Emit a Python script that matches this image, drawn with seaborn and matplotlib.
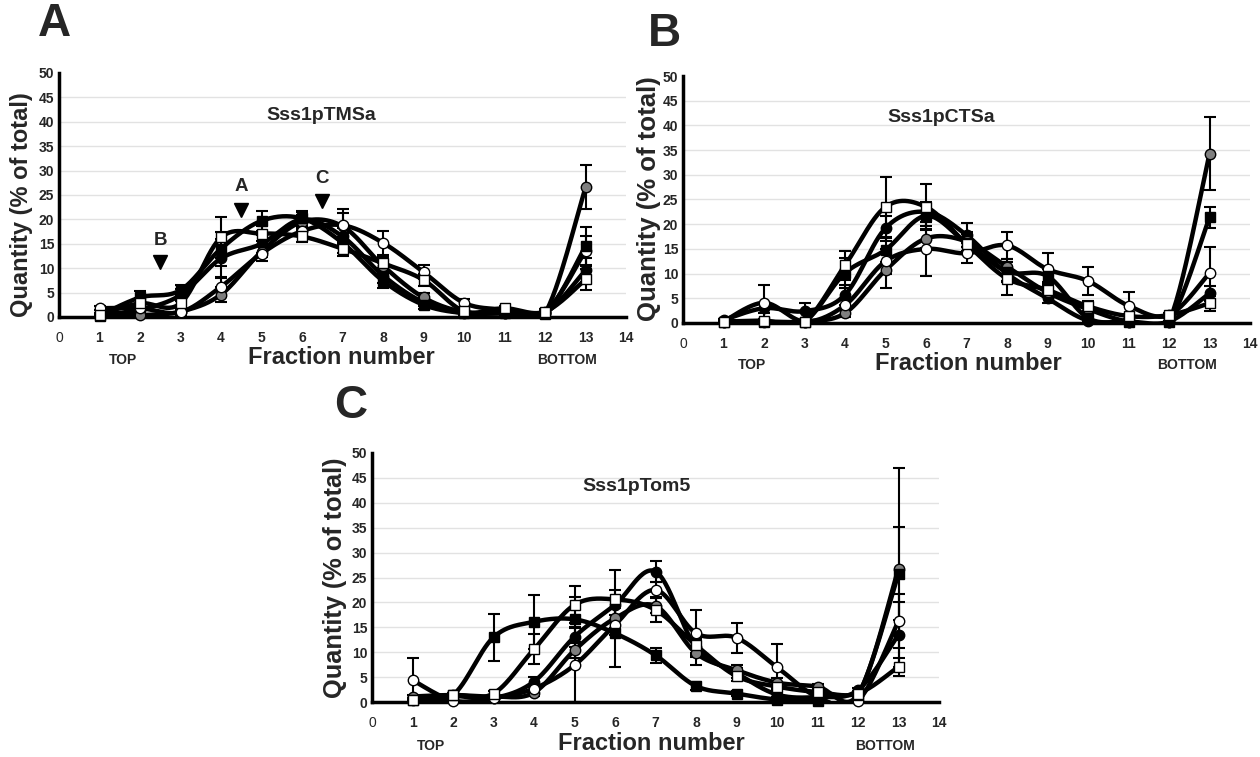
import numpy as np
import matplotlib
matplotlib.use("Agg")
import matplotlib.pyplot as plt
import seaborn as sns

# Fracciones del gradiente (1 = arriba, 13 = fondo)
fracciones = [1, 2, 3, 4, 5, 6, 7, 8, 9, 10, 11, 12, 13]

# Panel A - Sss1pTMSa
a_cuad_negro = [0.3, 4.0, 5.5, 14.0, 19.7, 20.2, 15.2, 7.4, 2.5, 0.8, 0.8, 0.6, 14.5]
a_cuad_negro_err = [0.3, 1.3, 1.0, 3.5, 2.0, 1.5, 2.0, 1.5, 0.8, 0.5, 0.5, 0.4, 4.0]
a_cuad_blanco = [0.5, 2.8, 2.8, 16.3, 17.1, 16.5, 14.0, 11.0, 7.6, 1.2, 1.8, 1.1, 7.7]
a_cuad_blanco_err = [0.3, 1.0, 1.0, 4.2, 1.5, 1.2, 1.6, 1.5, 1.2, 0.6, 0.5, 0.5, 2.2]
a_circ_negro = [0.5, 1.5, 4.5, 12.0, 15.0, 20.0, 16.5, 8.5, 3.0, 0.8, 0.8, 0.8, 9.6]
a_circ_negro_err = [0.3, 0.8, 1.2, 4.0, 1.8, 1.6, 1.8, 1.5, 0.8, 0.4, 0.4, 0.4, 2.5]
a_circ_blanco = [1.8, 1.8, 1.0, 6.2, 13.0, 17.6, 18.8, 15.2, 9.2, 2.9, 1.5, 1.0, 13.6]
a_circ_blanco_err = [0.4, 0.6, 0.5, 2.0, 1.5, 1.0, 2.5, 2.5, 1.5, 0.8, 0.4, 0.4, 3.0]
a_circ_gris = [0.5, 0.4, 1.1, 4.6, 13.4, 19.5, 18.6, 10.5, 4.0, 1.0, 0.8, 0.8, 26.6]
a_circ_gris_err = [0.3, 0.4, 0.5, 1.5, 1.2, 1.5, 3.5, 1.5, 1.0, 0.4, 0.4, 0.4, 4.5]

# Panel B - Sss1pCTSa
b_cuad_negro = [0.3, 0.3, 0.3, 10.1, 14.8, 21.7, 16.2, 10.4, 9.5, 1.0, 0.3, 0.3, 21.4]
b_cuad_negro_err = [0.2, 0.2, 0.3, 3.0, 2.5, 2.0, 1.8, 2.0, 1.5, 0.5, 0.2, 0.2, 2.1]
b_cuad_blanco = [0.3, 0.5, 0.3, 11.7, 23.5, 23.5, 16.0, 9.0, 6.7, 3.4, 1.4, 1.6, 4.0]
b_cuad_blanco_err = [0.2, 0.3, 0.3, 2.9, 6.0, 4.6, 2.0, 3.3, 1.5, 1.0, 0.5, 0.5, 1.5]
b_circ_negro = [0.6, 3.0, 2.4, 5.7, 19.2, 22.5, 17.8, 10.0, 5.0, 0.5, 0.3, 0.3, 6.0]
b_circ_negro_err = [0.3, 1.0, 1.7, 2.0, 2.5, 2.0, 2.4, 1.5, 1.0, 0.3, 0.2, 0.2, 1.5]
b_circ_blanco = [0.3, 4.1, 0.3, 3.6, 12.5, 15.0, 14.1, 15.7, 10.9, 8.5, 3.5, 1.6, 10.1]
b_circ_blanco_err = [0.2, 3.5, 0.3, 1.0, 2.5, 5.4, 2.0, 2.7, 3.2, 2.8, 2.7, 0.5, 5.3]
b_circ_gris = [0.3, 0.3, 0.3, 2.0, 10.7, 17.1, 16.5, 11.4, 6.2, 2.8, 0.3, 0.3, 34.3]
b_circ_gris_err = [0.2, 0.2, 0.3, 0.8, 3.7, 2.0, 2.0, 1.5, 1.0, 0.8, 0.2, 0.2, 7.3]

# Panel C - Sss1pTom5
c_cuad_negro = [0.4, 1.4, 13.0, 16.1, 16.6, 13.8, 9.4, 3.2, 1.7, 0.5, 0.3, 1.5, 25.8]
c_cuad_negro_err = [0.3, 0.5, 4.7, 5.4, 4.5, 6.7, 1.5, 0.8, 0.5, 0.3, 0.2, 0.5, 9.3]
c_cuad_blanco = [0.5, 1.4, 1.7, 10.6, 19.5, 20.6, 18.5, 11.4, 5.2, 3.1, 2.0, 1.7, 7.1]
c_cuad_blanco_err = [0.3, 0.5, 0.5, 3.0, 3.7, 6.0, 2.4, 1.5, 1.0, 1.0, 0.5, 0.5, 1.8]
c_circ_negro = [0.5, 1.2, 0.8, 4.1, 13.1, 19.5, 26.2, 11.0, 5.8, 1.5, 1.0, 2.4, 13.5]
c_circ_negro_err = [0.3, 0.5, 0.5, 1.0, 2.0, 3.0, 2.2, 1.5, 1.0, 0.5, 0.3, 0.5, 6.5]
c_circ_blanco = [4.4, 0.3, 0.8, 2.7, 7.4, 15.5, 22.5, 13.8, 12.9, 7.0, 1.0, 0.2, 16.3]
c_circ_blanco_err = [4.4, 0.2, 0.4, 0.8, 7.4, 2.0, 1.5, 4.7, 3.0, 4.6, 0.4, 0.2, 5.4]
c_circ_gris = [1.1, 1.4, 1.1, 1.9, 10.4, 16.8, 19.3, 9.8, 6.4, 3.9, 3.1, 1.5, 26.8]
c_circ_gris_err = [0.4, 0.5, 0.4, 0.6, 1.5, 2.0, 1.5, 2.4, 1.0, 1.0, 0.5, 0.5, 20.1]

# estilo de marcador de cada serie: (marcador, relleno)
estilos = {
    "circ_negro": ("o", "black"),
    "circ_gris": ("o", "#7f7f7f"),
    "circ_blanco": ("o", "white"),
    "cuad_negro": ("s", "black"),
    "cuad_blanco": ("s", "white"),
}

W, H = 1260, 757


def suavizar(x, y, n=30):
    """Curva suavizada tipo Excel (Bezier con tangentes de Catmull-Rom)."""
    x = np.asarray(x, float)
    y = np.asarray(y, float)
    pts = np.column_stack([x, y])
    t = np.linspace(0, 1, n)[:, None]
    tramos = []
    for i in range(len(pts) - 1):
        p0 = pts[i - 1] if i > 0 else pts[i]
        p1, p2 = pts[i], pts[i + 1]
        p3 = pts[i + 2] if i + 2 < len(pts) else pts[i + 1]
        c1 = p1 + (p2 - p0) / 6
        c2 = p2 - (p3 - p1) / 6
        seg = ((1 - t) ** 3) * p1 + 3 * ((1 - t) ** 2) * t * c1 + 3 * (1 - t) * t ** 2 * c2 + t ** 3 * p2
        tramos.append(seg if i == 0 else seg[1:])
    curva = np.vstack(tramos)
    return curva[:, 0], curva[:, 1]


def crear_eje(x0, y0, y50):
    # posiciones en pixeles -> fraccion de figura
    ancho = 567
    return fig.add_axes([x0 / W, 1 - y0 / H, ancho / W, (y0 - y50) / H])


def dibujar_panel(ax, series, titulo, pos):
    for nombre, (valores, errores) in series.items():
        marcador, relleno = estilos[nombre]
        sx, sy = suavizar(fracciones, valores)
        sns.lineplot(x=sx, y=sy, ax=ax, color="black", linewidth=3.2, sort=False,
                     estimator=None, zorder=2)
        ax.errorbar(fracciones, valores, yerr=errores, fmt="none", ecolor="black",
                    elinewidth=1.5, capsize=4, capthick=1.5, zorder=3, clip_on=False)
        ax.plot(fracciones, valores, linestyle="none", marker=marcador, markersize=7.5,
                markerfacecolor=relleno, markeredgecolor="black", markeredgewidth=1,
                zorder=4, clip_on=False)

    ax.set_xlim(0, 14)
    ax.set_ylim(0, 50)
    ax.set_xticks(range(0, 15))
    ax.set_yticks(range(0, 51, 5))
    for yy in range(5, 50, 5):
        ax.axhline(yy, color="#e2e2e2", linewidth=1, zorder=0)
    for lado in ("top", "right"):
        ax.spines[lado].set_visible(False)
    for lado in ("left", "bottom"):
        ax.spines[lado].set_linewidth(2.5)
        ax.spines[lado].set_color("black")
    ax.tick_params(axis="x", direction="out", length=4, width=1.5, labelsize=10, pad=6)
    ax.tick_params(axis="y", direction="out", length=3, width=1.5, labelsize=10, pad=0.5)
    for lab in ax.get_xticklabels() + ax.get_yticklabels():
        lab.set_fontweight("bold")
    ax.get_xticklabels()[0].set_fontweight("normal")
    ax.set_xlabel("")
    ax.set_ylabel("")
    ax.text(pos[0], pos[1], titulo, ha="center", va="center", fontsize=14,
            fontweight="bold")


def texto(px, py, s, **kw):
    fig.text(px / W, 1 - py / H, s, ha="center", va="center", fontweight="bold", **kw)


sns.set_style("white")
plt.rcParams["font.family"] = ["Liberation Sans", "DejaVu Sans"]

fig = plt.figure(figsize=(W / 100, H / 100), dpi=100)

ax_a = crear_eje(59, 317, 73)
ax_b = crear_eje(683, 323, 76)
ax_c = crear_eje(372, 702, 453)

series_a = {
    "circ_negro": (a_circ_negro, a_circ_negro_err),
    "circ_gris": (a_circ_gris, a_circ_gris_err),
    "circ_blanco": (a_circ_blanco, a_circ_blanco_err),
    "cuad_negro": (a_cuad_negro, a_cuad_negro_err),
    "cuad_blanco": (a_cuad_blanco, a_cuad_blanco_err),
}
series_b = {
    "circ_negro": (b_circ_negro, b_circ_negro_err),
    "circ_gris": (b_circ_gris, b_circ_gris_err),
    "circ_blanco": (b_circ_blanco, b_circ_blanco_err),
    "cuad_negro": (b_cuad_negro, b_cuad_negro_err),
    "cuad_blanco": (b_cuad_blanco, b_cuad_blanco_err),
}
series_c = {
    "circ_negro": (c_circ_negro, c_circ_negro_err),
    "circ_gris": (c_circ_gris, c_circ_gris_err),
    "circ_blanco": (c_circ_blanco, c_circ_blanco_err),
    "cuad_negro": (c_cuad_negro, c_cuad_negro_err),
    "cuad_blanco": (c_cuad_blanco, c_cuad_blanco_err),
}

dibujar_panel(ax_a, series_a, "Sss1pTMSa", (6.47, 41.2))
dibujar_panel(ax_b, series_b, "Sss1pCTSa", (6.37, 41.7))
dibujar_panel(ax_c, series_c, "Sss1pTom5", (6.54, 43.2))

# marcas de referencia en el panel A
for xm, letra, ylet, ytri in [(2.5, "B", 15.6, 11.2), (4.5, "A", 26.7, 22.0), (6.5, "C", 28.4, 23.7)]:
    ax_a.text(xm, ylet, letra, ha="center", va="center", fontsize=13.5, fontweight="bold")
    ax_a.plot([xm], [ytri], marker="v", markersize=10, color="black", linestyle="none")

# letras de panel
texto(54, 24, "A", fontsize=33)
texto(664, 34, "B", fontsize=33)
texto(351, 406, "C", fontsize=33)

# etiquetas de ejes
texto(22, 205, "Quantity (% of total)", fontsize=17, rotation=90)
texto(649, 199, "Quantity (% of total)", fontsize=18.5, rotation=90)
texto(335, 578, "Quantity (% of total)", fontsize=18.3, rotation=90)

texto(341, 358, "Fraction number", fontsize=17)
texto(968, 363, "Fraction number", fontsize=17)
texto(651, 744, "Fraction number", fontsize=17)

for (xt, xb, yy) in [(123, 567, 360), (752, 1187, 365), (431, 885, 746)]:
    texto(xt, yy, "TOP", fontsize=10)
    texto(xb, yy, "BOTTOM", fontsize=10)

fig.savefig("out.png", dpi=100)
